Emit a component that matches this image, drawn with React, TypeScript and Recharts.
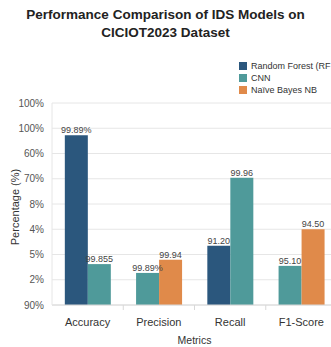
import { BarChart, Bar, XAxis, YAxis, CartesianGrid, Legend, LabelList, Cell } from "recharts";

// categories and the two bars drawn in each group
const categories = ["Accuracy", "Precision", "Recall", "F1-Score"];
const models = ["Random Forest (RF", "CNN", "Naïve Bayes NB"];
const modelColors = ["#2b577d", "#4f9a9a", "#e08a4a"];

const leftModel = [0, 1, 0, 1];
const leftHeight = [6.72, 1.27, 2.35, 1.55];
const leftLabel = ["99.89%", "99.89%", "91.20", "95.10"];

const rightModel = [1, 2, 1, 2];
const rightHeight = [1.62, 1.79, 5.04, 3.0];
const rightLabel = ["99.855", "99.94", "99.96", "94.50"];

// tick labels as printed on the axis, bottom to top
const yTickLabels = ["90%", "2%", "5%", "4%", "8%", "70%", "60%", "100%", "100%"];

const data = categories.map((name, i) => ({
  name,
  left: leftHeight[i],
  right: rightHeight[i],
  leftLabel: leftLabel[i],
  rightLabel: rightLabel[i],
}));

if (typeof document !== "undefined") document.body.style.margin = "0";

const FONT = "'Liberation Sans', Arial, sans-serif";

const XTick = (props: any) => {
  const { x, y, payload } = props;
  const half = 71.25 / 2;
  return (
    <g>
      {payload.index > 0 && <line x1={x - half} x2={x - half} y1={y - 8} y2={y - 3} stroke="#d8d8d8" />}
      <text x={x} y={y + 13} textAnchor="middle" fontSize={11} fill="#333" fontFamily={FONT}>
        {payload.value}
      </text>
    </g>
  );
};

const LegendContent = () => (
  <div style={{ fontFamily: FONT, fontSize: 9, color: "#333", lineHeight: "12px", whiteSpace: "nowrap" }}>
    {models.map((m, i) => (
      <div key={m} style={{ display: "flex", alignItems: "center" }}>
        <span
          style={{ width: 8, height: 8, flexShrink: 0, background: modelColors[i], marginRight: 4, display: "inline-block" }}
        />
        {m}
      </div>
    ))}
  </div>
);

export default function App() {
  return (
    <div style={{ position: "relative", width: 331, height: 347, overflow: "hidden", background: "#fff", fontFamily: FONT }}>
      <div
        style={{
          position: "absolute",
          top: 6,
          left: 0,
          width: 331,
          textAlign: "center",
          fontWeight: "bold",
          fontSize: 13.5,
          lineHeight: "18px",
          color: "#222",
          zIndex: 2,
        }}
      >
        Performance Comparison of IDS Models on
        <br />
        CICIOT2023 Dataset
      </div>
      <BarChart
        width={340}
        height={347}
        data={data}
        margin={{ top: 67, right: 3, left: 4, bottom: 0 }}
        barCategoryGap="18%"
        barGap={0}
      >
        <CartesianGrid stroke="#e6e6e6" vertical={false} />
        <XAxis
          dataKey="name"
          height={42}
          tickLine={false}
          axisLine={{ stroke: "#d8d8d8" }}
          tick={<XTick />}
          label={{ value: "Metrics", position: "insideBottom", offset: 3, fontSize: 10.5, fill: "#333" }}
        />
        <YAxis
          width={48}
          domain={[0, 8]}
          ticks={[0, 1, 2, 3, 4, 5, 6, 7, 8]}
          tickFormatter={(v: number) => yTickLabels[v]}
          tick={{ fontSize: 10, fill: "#555", fontFamily: FONT }}
          tickLine={false}
          axisLine={{ stroke: "#e6e6e6" }}
          label={{
            value: "Percentage (%)",
            angle: -90,
            position: "insideLeft",
            offset: 11,
            dy: 3,
            style: { textAnchor: "middle", fontSize: 11, fill: "#333", fontFamily: FONT },
          }}
        />
        <Legend verticalAlign="top" align="right" content={<LegendContent />} wrapperStyle={{ top: 60, left: 239, width: 92 }} />
        <Bar dataKey="left" isAnimationActive={false}>
          {data.map((d, i) => (
            <Cell key={d.name} fill={modelColors[leftModel[i]]} />
          ))}
          <LabelList dataKey="leftLabel" position="top" offset={2} fontSize={9} fill="#444" />
        </Bar>
        <Bar dataKey="right" isAnimationActive={false}>
          {data.map((d, i) => (
            <Cell key={d.name} fill={modelColors[rightModel[i]]} />
          ))}
          <LabelList dataKey="rightLabel" position="top" offset={2} fontSize={9} fill="#444" />
        </Bar>
      </BarChart>
    </div>
  );
}
